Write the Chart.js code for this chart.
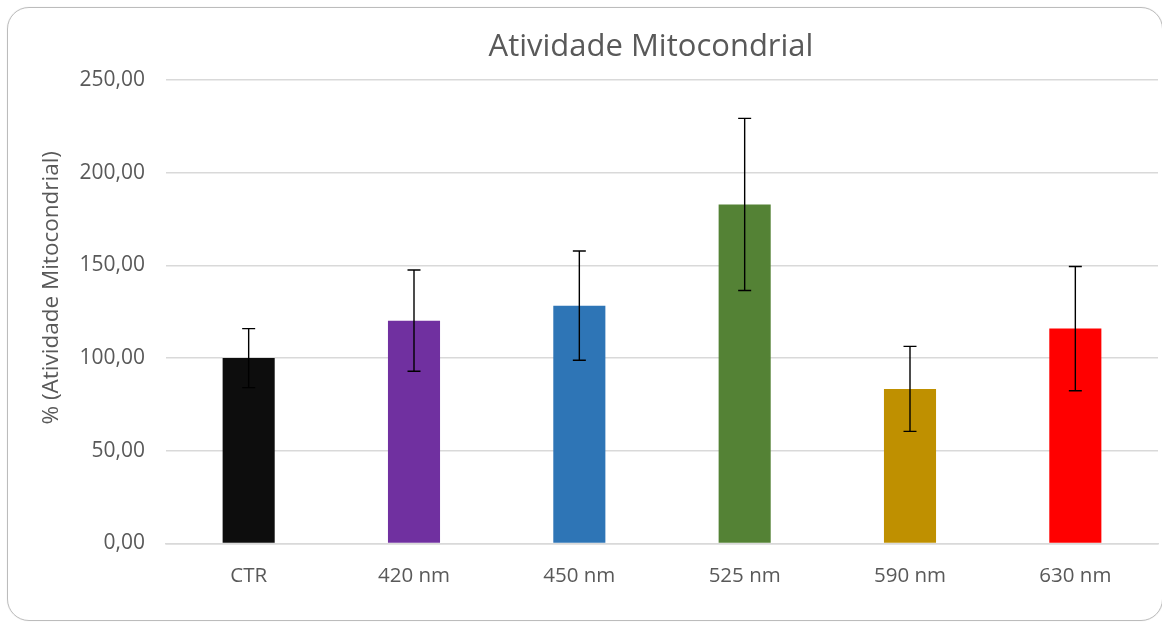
<!DOCTYPE html>
<html>
<head>
<meta charset="utf-8">
<script src="https://cdn.jsdelivr.net/npm/chart.js@4/dist/chart.umd.min.js"></script>
<style>
  html, body { margin: 0; padding: 0; background: #ffffff; }
  #wrap { position: relative; width: 1162px; height: 623px; overflow: hidden; }
  #chart1 { position: absolute; left: 0; top: 0; }
  #frame {
    position: absolute; left: 7px; top: 7px; width: 1156px; height: 614px;
    border: 1px solid #bcbcbc; border-radius: 22px; box-sizing: border-box;
    box-shadow: 0 0 1px #d0d0d0; pointer-events: none;
  }
</style>
</head>
<body>
<div id="wrap">
  <canvas id="chart1" width="1162" height="623"></canvas>
  <div id="frame"></div>
</div>
<script>
// data
const categories = ['CTR', '420 nm', '450 nm', '525 nm', '590 nm', '630 nm'];
const meanValues = [100.0, 120.2, 128.3, 182.9, 83.4, 115.9];
const errorValues = [15.9, 27.3, 29.5, 46.4, 22.9, 33.5];
const barColors = ['#0d0d0d', '#7030a0', '#2e75b6', '#548235', '#bf9000', '#ff0000'];
const yTicks = [0, 50, 100, 150, 200, 250];

const chartTitle = 'Atividade Mitocondrial';
const yAxisTitle = '% (Atividade Mitocondrial)';
const textColor = '#595959';
const fontFamily = '"Open Sans", "DejaVu Sans", sans-serif';

// error bars drawn on top of the bars, using the chart's own scales
const errorBarPlugin = {
    id: 'errorBars',
    afterDatasetsDraw(chart) {
        const ctx = chart.ctx;
        const xScale = chart.scales.x;
        const yScale = chart.scales.y;
        ctx.save();
        ctx.strokeStyle = '#000000';
        ctx.lineWidth = 1.4;
        meanValues.forEach((v, i) => {
            const x = xScale.getPixelForValue(i);
            const yTop = yScale.getPixelForValue(v + errorValues[i]);
            const yBot = yScale.getPixelForValue(v - errorValues[i]);
            ctx.beginPath();
            ctx.moveTo(x, yTop);
            ctx.lineTo(x, yBot);
            ctx.moveTo(x - 6.5, yTop);
            ctx.lineTo(x + 6.5, yTop);
            ctx.moveTo(x - 6.5, yBot);
            ctx.lineTo(x + 6.5, yBot);
            ctx.stroke();
        });
        ctx.restore();
    }
};

// chart title and y axis title, placed like the original (title a bit left of plot centre)
const titlesPlugin = {
    id: 'titles',
    afterDraw(chart) {
        const ctx = chart.ctx;
        const area = chart.chartArea;
        ctx.save();
        ctx.fillStyle = textColor;
        ctx.font = '31px ' + fontFamily;
        ctx.textAlign = 'center';
        ctx.textBaseline = 'alphabetic';
        ctx.fillText(chartTitle, (area.left + area.right) / 2 - 11, area.top - 24);

        ctx.translate(area.left - 114, (area.top + area.bottom) / 2 - 24);
        ctx.rotate(-Math.PI / 2);
        ctx.font = '22.5px ' + fontFamily;
        ctx.textBaseline = 'middle';
        ctx.fillText(yAxisTitle, 0, 0);
        ctx.restore();
    }
};

const ctx1 = document.getElementById('chart1').getContext('2d');
const myBarChart = new Chart(ctx1, {
    type: 'bar',
    data: {
        labels: categories,
        datasets: [{
            data: meanValues,
            backgroundColor: barColors,
            borderWidth: 0,
            barPercentage: 0.315,
            categoryPercentage: 1.0
        }]
    },
    options: {
        responsive: false,
        animation: false,
        layout: { padding: { left: 0, right: 4, top: 80, bottom: 0 } },
        plugins: {
            legend: { display: false },
            tooltip: { enabled: false },
            title: { display: false }
        },
        scales: {
            x: {
                grid: { display: false, drawTicks: false },
                border: { display: true, color: '#d9d9d9', width: 1.5 },
                ticks: {
                    color: textColor,
                    font: { family: fontFamily, size: 20.5 },
                    padding: 20
                },
                afterFit(scale) { scale.height = 79.5; }
            },
            y: {
                min: yTicks[0],
                max: yTicks[yTicks.length - 1],
                afterBuildTicks(scale) {
                    scale.ticks = yTicks.map(v => ({ value: v }));
                },
                grid: { color: '#d9d9d9', lineWidth: 1.5, drawTicks: false },
                border: { display: false },
                ticks: {
                    color: textColor,
                    font: { family: fontFamily, size: 21 },
                    padding: 21,
                    callback: function (value) {
                        return value.toFixed(2).replace('.', ',');
                    }
                },
                afterFit(scale) { scale.width = 166; }
            }
        }
    },
    plugins: [errorBarPlugin, titlesPlugin]
});
</script>
</body>
</html>
